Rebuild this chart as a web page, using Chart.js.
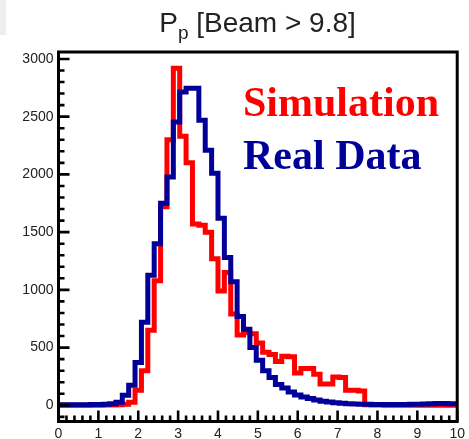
<!DOCTYPE html>
<html>
<head>
<meta charset="utf-8">
<script src="https://cdn.jsdelivr.net/npm/chart.js@4.4.1/dist/chart.umd.min.js"></script>
<style>
  html, body { margin: 0; padding: 0; background: #fff; }
  #wrap { position: relative; width: 469px; height: 439px; overflow: hidden; }
  #plot { position: absolute; left: 0; top: 0; }
  #corner { position: absolute; left: 0; top: 0; width: 6px; height: 35px; background: #eceef0; }
  #title {
    position: absolute; left: 0; top: 9px; width: 515px; text-align: center;
    font-family: "Liberation Sans", Arial, sans-serif; font-size: 28px; line-height: 28px;
    color: #222; white-space: nowrap;
  }
  #title sub { font-size: 19px; vertical-align: -7px; line-height: 0; }
  .leg {
    position: absolute; left: 243px; white-space: nowrap;
    font-family: "Liberation Serif", "Times New Roman", serif; font-weight: bold;
    font-size: 42px; line-height: 42px;
  }
</style>
</head>
<body>
<div id="wrap">
  <canvas id="plot" width="469" height="439"></canvas>
  <div id="corner"></div>
  <div id="title">P<sub>p</sub> [Beam &gt; 9.8]</div>
  <div id="leg0" class="leg" style="top:81px"></div>
  <div id="leg1" class="leg" style="top:134px"></div>
</div>
<script>
// Proton momentum histograms, 0.16-wide bins starting at 0
const binWidth = 0.16;

const seriesNames = ['Simulation', 'Real Data'];
const seriesColors = ['#ff0000', '#000099'];

// Simulation counts per bin
const simCounts = [
  0, 0, 0, 0, 0, 0, 0, 2, 3, 5,
  10, 26, 130, 300, 650, 1080, 1720, 2300, 2920, 2330,
  2100, 1570, 1560, 1500, 1270, 990, 1150, 790, 610, 630,
  620, 540, 460, 440, 380, 425, 420, 280, 320, 320,
  270, 185, 185, 245, 240, 130, 130, 125, 4, 2,
  2, 1, 1, 1, 0, 0, 0, 0, 0, 0,
  0, 0, 0
];

// Measured counts per bin
const dataCounts = [
  5, 5, 5, 6, 6, 7, 8, 10, 14, 26,
  87, 173, 370, 720, 1127, 1400, 1750, 1977, 2454, 2714,
  2745, 2745, 2470, 2210, 2010, 1620, 1280, 1070, 770, 660,
  500, 390, 300, 240, 180, 150, 115, 90, 72, 60,
  46, 36, 28, 22, 17, 13, 11, 10, 9, 8,
  8, 7, 7, 7, 8, 9, 10, 12, 14, 16,
  15, 14, 14
];

// Axis ticks
const xTicks = [0, 1, 2, 3, 4, 5, 6, 7, 8, 9, 10];
const yTicks = [0, 500, 1000, 1500, 2000, 2500, 3000];
const xRange = [0, 10];
const yRange = [-140, 3060];
const xMinorPerMajor = 5;   // minor x ticks every 0.2
const yMinorStep = 100;     // minor y ticks every 100

// Step outline points: one per bin low edge plus the closing edge
function histogramPoints(counts) {
  const pts = counts.map((c, i) => ({ x: i * binWidth, y: c }));
  pts.push({ x: counts.length * binWidth, y: counts[counts.length - 1] });
  return pts;
}

// Inward tick marks and the heavy frame around the plotting area
const frameAndTicks = {
  id: 'frameAndTicks',
  afterDatasetsDraw(chart) {
    const { ctx, chartArea: a, scales } = chart;
    const xs = scales.x, ys = scales.y;
    ctx.save();
    ctx.strokeStyle = '#000';
    ctx.lineCap = 'butt';
    ctx.lineWidth = 2.6;
    ctx.beginPath();
    const nx = (xRange[1] - xRange[0]) * xMinorPerMajor;
    for (let k = 0; k <= nx; k++) {
      const v = xRange[0] + k / xMinorPerMajor;
      const px = xs.getPixelForValue(v);
      const len = (k % xMinorPerMajor === 0) ? 11 : 6;
      ctx.moveTo(px, a.bottom);
      ctx.lineTo(px, a.bottom - len);
    }
    const yStart = Math.ceil(yRange[0] / yMinorStep) * yMinorStep;
    for (let v = yStart; v <= yRange[1]; v += yMinorStep) {
      const py = ys.getPixelForValue(v);
      const len = (v % 500 === 0) ? 11 : 6;
      ctx.moveTo(a.left, py);
      ctx.lineTo(a.left + len, py);
    }
    ctx.stroke();
    ctx.lineWidth = 3;
    ctx.strokeRect(a.left, a.top, a.right - a.left, a.bottom - a.top);
    ctx.restore();
  }
};

const tickFont = { family: '"Liberation Sans", Arial, sans-serif', size: 14 };

new Chart(document.getElementById('plot'), {
  type: 'line',
  data: {
    datasets: [
      {
        label: seriesNames[1],
        data: histogramPoints(dataCounts),
        borderColor: seriesColors[1],
        order: 1
      },
      {
        label: seriesNames[0],
        data: histogramPoints(simCounts),
        borderColor: seriesColors[0],
        order: 2
      }
    ]
  },
  options: {
    responsive: false,
    animation: false,
    devicePixelRatio: 1,
    layout: { padding: { top: 52, right: 11.5, left: 0, bottom: 0 } },
    elements: {
      line: { borderWidth: 5, stepped: true, tension: 0, fill: false,
              borderJoinStyle: 'miter', borderCapStyle: 'butt' },
      point: { radius: 0, hoverRadius: 0 }
    },
    plugins: { legend: { display: false }, tooltip: { enabled: false }, title: { display: false } },
    scales: {
      x: {
        type: 'linear', min: xRange[0], max: xRange[1],
        afterBuildTicks: s => { s.ticks = xTicks.map(v => ({ value: v })); },
        afterFit: s => { s.height = 17.5; },
        ticks: { font: tickFont, color: '#222', padding: 4, maxRotation: 0, autoSkip: false,
                 callback: v => String(v) },
        grid: { display: false, drawTicks: false },
        border: { display: false }
      },
      y: {
        type: 'linear', min: yRange[0], max: yRange[1],
        afterBuildTicks: s => { s.ticks = yTicks.map(v => ({ value: v })); },
        afterFit: s => { s.width = 58.5; },
        ticks: { font: tickFont, color: '#222', padding: 5, autoSkip: false,
                 callback: v => String(v) },
        grid: { display: false, drawTicks: false },
        border: { display: false }
      }
    }
  },
  plugins: [frameAndTicks]
});

// Legend entries
seriesNames.forEach((name, i) => {
  const el = document.getElementById('leg' + i);
  el.textContent = name;
  el.style.color = seriesColors[i];
});
</script>
</body>
</html>
